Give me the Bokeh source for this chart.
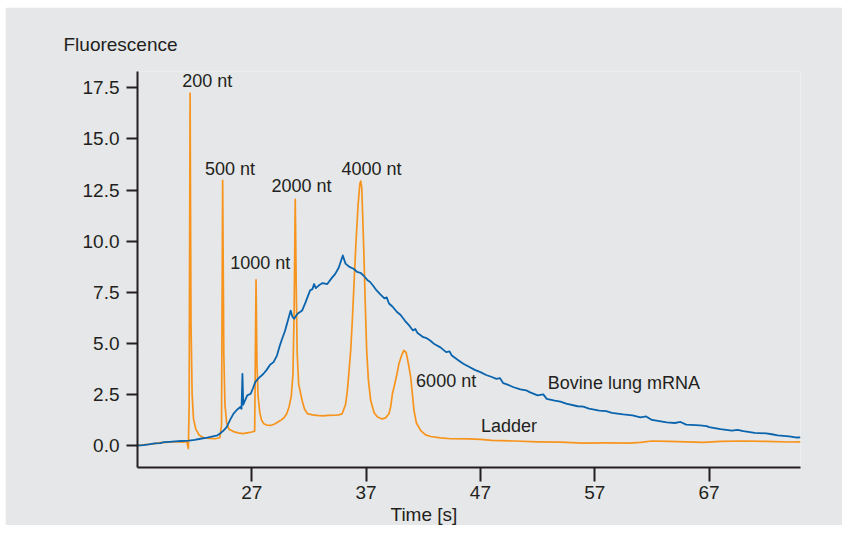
from bokeh.plotting import figure
from bokeh.models import Range1d, Label, Title, FixedTicker, CustomJSTickFormatter
from bokeh.embed import file_html
from bokeh.resources import INLINE

# ---------------- data ----------------
ladder_t = [17.0, 17.5, 18.0, 18.5, 19.0, 19.5, 20.0, 20.5, 21.0, 21.3, 21.45, 21.52,
            21.6, 21.68, 21.78, 21.9, 22.1, 22.4, 22.8, 23.3, 23.8, 24.2, 24.35, 24.45,
            24.55, 24.65, 24.8, 25.0, 25.4, 25.8, 26.2, 26.6, 27.0, 27.25, 27.37, 27.45,
            27.55, 27.7, 27.85, 28.06, 28.3, 28.65, 29.0, 29.5, 29.8, 30.05, 30.25, 30.45,
            30.6, 30.7, 30.8, 30.88, 30.97, 31.1, 31.4, 31.6, 31.86, 32.3, 32.7, 33.2,
            33.7, 34.2, 34.6, 34.9, 35.2, 35.36, 35.5, 35.65, 35.8, 35.94, 36.1, 36.3,
            36.45, 36.53, 36.62, 36.8, 36.92, 37.05, 37.2, 37.4, 37.7, 38.0, 38.4, 38.7,
            39.0, 39.15, 39.3, 39.5, 39.7, 39.87, 40.1, 40.3, 40.5, 40.7, 40.9, 41.05,
            41.19, 41.4, 41.78, 42.2, 42.66, 43.5, 44.4, 46.0, 47.0, 48.0, 50.0, 52.0,
            54.0, 56.0, 58.0, 60.0, 61.0, 62.0, 63.5, 65.0, 66.5, 68.0, 70.0, 72.0,
            74.0, 75.0]
ladder_v = [0.00, 0.03, 0.06, 0.09, 0.14, 0.15, 0.17, 0.18, 0.16, 0.20, -0.15, 2.0,
            17.24, 6.0, 2.5, 1.3, 0.8, 0.5, 0.38, 0.35, 0.33, 0.38, 1.0, 12.97,
            4.5, 2.0, 1.1, 0.8, 0.68, 0.62, 0.58, 0.62, 0.66, 0.7, 8.1, 4.0,
            2.4, 1.6, 1.25, 1.06, 1.0, 0.98, 1.05, 1.22, 1.35, 1.55, 1.87, 2.4,
            3.5, 6.5, 12.04, 8.0, 4.5, 3.0, 2.2, 1.8, 1.56, 1.5, 1.47, 1.45,
            1.47, 1.48, 1.5, 1.55, 2.0, 2.7, 3.6, 4.65, 6.2, 7.9, 9.8, 11.8,
            12.8, 12.94, 12.6, 9.5, 7.0, 4.65, 3.2, 2.2, 1.6, 1.39, 1.3, 1.35,
            1.55, 1.9, 2.53, 3.0, 3.5, 4.0, 4.4, 4.65, 4.55, 4.0, 3.34, 2.5,
            1.71, 1.1, 0.73, 0.52, 0.44, 0.37, 0.33, 0.32, 0.30, 0.25, 0.22, 0.18,
            0.16, 0.12, 0.13, 0.12, 0.15, 0.22, 0.20, 0.18, 0.15, 0.20, 0.22, 0.20,
            0.17, 0.18]

mrna_t = [17.0, 17.5, 18.0, 18.5, 19.0, 19.3, 19.8, 20.3, 20.8, 21.5, 22.0, 22.5,
          23.1, 23.6, 24.0, 24.25, 24.5, 24.8, 25.1, 25.4, 25.7, 26.0, 26.1, 26.18,
          26.25, 26.4, 26.6, 26.9, 27.1, 27.3, 27.6, 28.0, 28.3, 28.6, 28.9, 29.2,
          29.4, 29.6, 29.9, 30.2, 30.4, 30.55, 30.7, 31.0, 31.4, 31.7, 32.1, 32.3,
          32.45, 32.6, 32.9, 33.2, 33.6, 34.0, 34.3, 34.6, 34.96, 35.2, 35.5, 35.9,
          36.2, 36.5, 36.77, 37.1, 37.35, 37.6, 37.9, 38.2, 38.6, 38.8, 39.0, 39.3,
          39.7, 40.0, 40.4, 40.8, 41.1, 41.3, 41.5, 42.0, 42.3, 42.6, 43.0, 43.5,
          44.0, 44.3, 44.5, 45.0, 45.5, 46.0, 46.5, 47.0, 47.5, 48.0, 48.4, 48.7,
          49.0, 49.5, 49.9, 50.5, 51.0, 51.3, 52.0, 52.5, 52.8, 53.5, 54.0, 54.5,
          55.5, 56.0, 56.5, 57.4, 58.0, 58.5, 59.5, 60.3, 61.0, 61.5, 62.0, 63.3,
          64.0, 64.5, 65.0, 66.2, 66.8, 67.0, 68.0, 69.0, 69.5, 70.0, 71.0, 72.0,
          72.5, 73.0, 74.0, 74.7, 75.0]
mrna_v = [0.00, 0.02, 0.05, 0.10, 0.12, 0.16, 0.18, 0.20, 0.22, 0.24, 0.27, 0.33,
          0.39, 0.45, 0.50, 0.60, 0.72, 0.90, 1.25, 1.56, 1.75, 1.88, 1.80, 3.50,
          2.00, 2.20, 2.45, 2.53, 2.80, 3.10, 3.30, 3.50, 3.70, 3.95, 4.08, 4.40,
          4.80, 5.14, 5.60, 6.20, 6.60, 6.30, 6.20, 6.45, 6.60, 7.00, 7.59, 7.65,
          7.90, 7.70, 7.85, 7.95, 7.90, 8.20, 8.40, 8.70, 9.30, 8.90, 8.75, 8.65,
          8.50, 8.45, 8.32, 8.10, 8.00, 7.83, 7.60, 7.42, 7.20, 7.25, 6.95, 6.80,
          6.53, 6.40, 6.10, 5.85, 5.63, 5.70, 5.50, 5.30, 5.25, 5.14, 4.95, 4.80,
          4.57, 4.60, 4.40, 4.20, 4.00, 3.85, 3.70, 3.59, 3.45, 3.35, 3.26, 3.30,
          3.05, 2.95, 2.85, 2.75, 2.70, 2.61, 2.45, 2.50, 2.28, 2.20, 2.15, 2.05,
          1.92, 1.90, 1.80, 1.71, 1.68, 1.60, 1.52, 1.47, 1.38, 1.42, 1.25, 1.13,
          1.10, 1.15, 1.02, 0.98, 0.95, 0.90, 0.80, 0.73, 0.76, 0.70, 0.62, 0.59,
          0.55, 0.50, 0.45, 0.39, 0.40]

x_ticks = [27, 37, 47, 57, 67]
y_ticks = [0.0, 2.5, 5.0, 7.5, 10.0, 12.5, 15.0, 17.5]

peak_labels = ["200 nt", "500 nt", "1000 nt", "2000 nt", "4000 nt", "6000 nt"]
series_labels = ["Bovine lung mRNA", "Ladder"]

# ---------------- styling ----------------
BG = "#e6e7e8"
INK = "#231f20"
ORANGE = "#f7941d"
BLUE = "#0a64ad"
TICK_FONT = "'Liberation Sans Narrow', 'Liberation Sans', sans-serif"
TEXT_FONT = "'Liberation Sans', sans-serif"

p = figure(frame_width=663, frame_height=396, min_border_left=132, min_border_right=42,
           min_border_top=64, min_border_bottom=58,
           x_range=Range1d(17, 75), y_range=Range1d(-1.077, 18.30),
           output_backend="svg", toolbar_location=None)
p.margin = (7, 0, 0, 5)
p.background_fill_color = BG
p.border_fill_color = BG
p.outline_line_color = None
p.grid.visible = False

p.line(ladder_t, ladder_v, line_color=ORANGE, line_width=1.7, line_join="round")
p.line(mrna_t, mrna_v, line_color=BLUE, line_width=1.8, line_join="round")

for ax in (p.xaxis[0], p.yaxis[0]):
    ax.axis_line_color = INK
    ax.axis_line_width = 2
    ax.major_tick_line_color = INK
    ax.major_tick_line_width = 2
    ax.minor_tick_line_color = None
    ax.major_tick_in = 0
    ax.major_label_text_font = TICK_FONT
    ax.major_label_text_font_size = "19px"
    ax.major_label_text_color = INK

p.xaxis.ticker = FixedTicker(ticks=x_ticks)
p.xaxis.major_tick_out = 14
p.xaxis.major_label_standoff = 4
p.yaxis.ticker = FixedTicker(ticks=y_ticks)
p.yaxis.major_tick_out = 11
p.yaxis.major_label_standoff = 7
p.yaxis.formatter = CustomJSTickFormatter(code="return tick.toFixed(1);")

# axis titles
p.title.text = "Fluorescence"
p.title.align = "left"
p.title.offset = -74
p.title.standoff = 34
p.title.text_font = TEXT_FONT
p.title.text_font_size = "19px"
p.title.text_font_style = "normal"
p.title.text_color = INK

p.add_layout(Title(text="Time [s]", align="left", offset=253, standoff=0,
                   text_font=TEXT_FONT, text_font_size="19px",
                   text_font_style="normal", text_color=INK), "below")

# peak annotations
peak_pos = [(23.1, 17.85), (25.1, 13.53), (27.74, 8.93), (31.35, 12.68), (37.47, 13.53), (44.0, 3.15)]
for txt, (lx, ly) in zip(peak_labels, peak_pos):
    p.add_layout(Label(x=lx, y=ly, text=txt, text_align="center", text_baseline="alphabetic",
                       text_font=TEXT_FONT, text_font_size="18px", text_color=INK))

series_pos = [(59.55, 3.05), (49.5, 0.93)]
for txt, (lx, ly) in zip(series_labels, series_pos):
    p.add_layout(Label(x=lx, y=ly, text=txt, text_align="center", text_baseline="alphabetic",
                       text_font=TEXT_FONT, text_font_size="18px", text_color=INK))

open("out.html", "w").write(file_html(p, INLINE))
